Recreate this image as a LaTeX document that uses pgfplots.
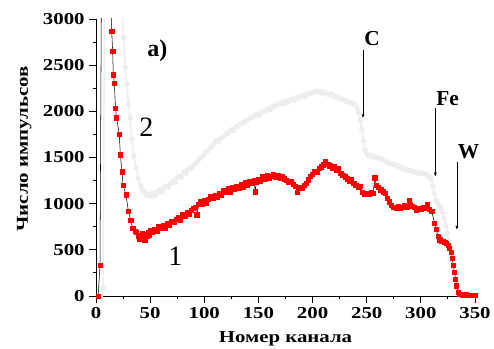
\documentclass[border=0pt]{standalone}
\usepackage{pgfplots}
\pgfplotsset{compat=1.18}
\usetikzlibrary{arrows.meta}
\usepackage{fontspec}
\setmainfont{Liberation Serif}
\newfontfamily\wide[FakeStretch=1.25]{Liberation Serif}
\definecolor{lgray}{RGB}{236,238,236}

\begin{document}
\begin{tikzpicture}
\begin{axis}[
 at={(0,0)}, anchor=south west, scale only axis,
 width=284.25pt, height=207.75pt,
 xmin=0, xmax=350, ymin=0, ymax=3000,
 axis lines*=left,
 xtick={0,50,...,350}, ytick={0,500,...,3000},
 minor tick num=1,
 tick align=outside,
 major tick length=5pt, minor tick length=2.6pt,
 axis line style={line width=0.7pt, black},
 every tick/.style={line width=0.7pt, black},
 tick label style={font=\wide\bfseries\fontsize{12.5}{12.5}\selectfont},
 /pgf/number format/assume math mode=true,
 /pgf/number format/1000 sep={},
 xlabel={Номер канала}, ylabel={Число импульсов},
 label style={font=\wide\bfseries\fontsize{12.5}{13}\selectfont},
 xlabel style={at={(axis description cs:0.5,-0.1697)}, anchor=base},
 ylabel style={at={(axis description cs:-0.18,0.531)}, anchor=base},
 clip mode=individual,
]
% series 2 (grey)
\addplot[lgray, line width=1.2pt, mark=*, mark size=1.5pt, mark options={fill=lgray, draw=lgray}] coordinates {
(4,0)(6.5,90)(8,3600)(22,3600)(24,3100)(25.5,2800)(27,2480)(28.5,2300)(30,2080)(31.5,1930)
(33,1700)(35,1520)(37,1390)(39,1280)(41,1200)(43,1150)(45,1120)(47,1090)(49,1100)(51,1080)
(53,1110)(55,1090)(57,1120)(59,1150)(61,1130)(63,1170)(65,1190)(67,1180)(69,1220)(71,1240)
(73,1230)(75,1280)(77,1300)(79,1290)(81,1340)(83,1330)(85,1370)(87,1380)(89,1400)(91,1430)
(93,1440)(95,1480)(97,1500)(99,1520)(101,1560)(103,1570)(105,1600)(107,1620)(109,1650)(111,1680)
(113,1670)(115,1710)(117,1720)(119,1740)(121,1760)(123,1770)(125,1800)(127,1790)(129,1830)(131,1840)
(133,1860)(135,1870)(137,1880)(139,1900)(141,1910)(143,1930)(145,1940)(147,1950)(149,1970)(151,1960)
(153,1990)(155,2000)(157,2010)(159,2030)(161,2020)(163,2050)(165,2060)(167,2070)(169,2080)(171,2090)
(173,2080)(175,2110)(177,2100)(179,2120)(181,2130)(183,2120)(185,2150)(187,2140)(189,2160)(191,2170)
(193,2160)(195,2180)(197,2190)(199,2200)(201,2210)(203,2220)(205,2210)(207,2220)(209,2200)(211,2210)
(213,2190)(215,2180)(217,2190)(219,2170)(221,2160)(223,2150)(225,2140)(227,2130)(229,2120)(231,2110)
(233,2100)(235,2090)(237,2090)(239,2070)(241,2040)(242.5,1990)(244,1900)(245.5,1800)(247,1680)(248.5,1580)
(250,1540)(252,1520)(254,1510)(256,1510)(258,1500)(260,1500)(262,1490)(264,1480)(266,1470)(268,1460)
(270,1440)(272,1430)(274,1430)(276,1420)(278,1410)(280,1400)(282,1390)(284,1380)(286,1370)(288,1360)
(290,1360)(292,1350)(294,1340)(296,1340)(298,1330)(300,1330)(302,1330)(304,1320)(306,1310)(308,1290)
(309.5,1270)(311,1190)(312.5,1110)(314,1040)(315.5,1000)(317,980)(318.5,950)(320,900)(321.5,840)(323,760)
(324.5,680)(326,590)(327.5,490)(329,390)(330.5,300)(332,180)(333.5,80)(335,30)(337,15)(340,10)
(345,8)(350,5)
};
% series 1 (red)
\addplot[black, line width=0.4pt, mark=square*, mark size=1.6pt, mark options={fill=red, draw=red}] coordinates {
(2,0)(3.7,330)(5.5,4500)(13.5,4500)(14.5,2865)(15.4,2650)(16,2395)(17,2305)(18,2035)(19,1930)
(21.5,1755)(22.5,1530)(24,1345)(25,1200)(27.7,1095)(30,915)(32,820)(34,735)(36,700)(37.5,690)
(39,650)(40,615)(41,660)(42,630)(43,680)(44,640)(45,610)(46,670)(47,650)(48,690)
(49,660)(50,710)(52,690)(54,720)(56,700)(58,750)(60,730)(62,760)(64,740)(66,790)
(68,770)(70,810)(72,800)(74,830)(76,850)(78,820)(80,880)(82,860)(84,910)(86,890)
(88,930)(90,950)(92,960)(93,880)(95,990)(96,1020)(98,1000)(100,1040)(102,1010)(104,1050)
(106,1080)(108,1060)(110,1090)(112,1070)(114,1110)(116,1090)(118,1140)(120,1120)(122,1160)(124,1130)
(126,1180)(128,1160)(130,1190)(132,1170)(134,1210)(136,1180)(138,1230)(140,1200)(142,1240)(144,1220)
(146,1250)(147,1130)(148,1230)(150,1260)(152,1240)(154,1290)(156,1270)(158,1310)(160,1280)(162,1300)
(164,1320)(166,1290)(168,1310)(170,1280)(172,1300)(174,1270)(176,1250)(178,1230)(180,1240)(182,1210)
(184,1190)(186,1120)(188,1180)(190,1170)(192,1200)(194,1220)(196,1260)(198,1300)(200,1320)(202,1350)
(204,1340)(206,1380)(208,1400)(210,1420)(212,1460)(214,1430)(216,1410)(218,1390)(220,1400)(222,1360)
(224,1380)(226,1330)(228,1310)(230,1290)(232,1270)(234,1240)(236,1260)(238,1220)(240,1200)(242,1180)
(244,1190)(246,1120)(248,1100)(250,1110)(252,1100)(254,1120)(256,1110)(257.4,1280)(259,1200)(261,1180)
(263,1150)(265,1130)(267,1110)(269,1060)(271,1020)(273,980)(275,960)(277,950)(279,970)(281,950)
(283,960)(285,980)(287,960)(289,1040)(290.5,990)(292,970)(294,960)(296,930)(298,950)(300,940)
(302,960)(304,950)(306,990)(308,940)(310,920)(312.7,790)(314,720)(316,650)(317.5,610)(319,590)
(320.5,595)(322,585)(323.5,575)(325,550)(326.5,520)(328,470)(329,410)(330,330)(331,260)(332,180)
(333,110)(334.5,40)(336,15)(338,12)(340,10)(342,12)(344,10)(346,8)(348,10)(350,8)
};
\node[font=\bfseries\fontsize{18}{18}\selectfont] at (axis cs:56.7,2654) {a)};
\node[font=\fontsize{21}{21}\selectfont] at (axis cs:46.6,1830) {2};
\node[font=\fontsize{21}{21}\selectfont] at (axis cs:73.2,433) {1};
\node[font=\bfseries\fontsize{16}{16}\selectfont] at (axis cs:255,2783) {C};
\node[font=\bfseries\fontsize{16}{16}\selectfont] at (axis cs:324.7,2134) {Fe};
\node[font=\bfseries\fontsize{16}{16}\selectfont] at (axis cs:344,1560) {W};
\draw[-{Latex[length=3pt,width=2.4pt]}, line width=0.6pt] (axis cs:246.6,2664) -- (axis cs:246.6,1925);
\draw[-{Latex[length=3pt,width=2.4pt]}, line width=0.6pt] (axis cs:313.4,2033) -- (axis cs:313.4,1292);
\draw[-{Latex[length=3pt,width=2.4pt]}, line width=0.6pt] (axis cs:333.3,1455) -- (axis cs:333.3,715);
\end{axis}
\pgfresetboundingbox
\useasboundingbox (-72pt,-39.75pt) rectangle (298.5pt,222pt);
\end{tikzpicture}
\end{document}
